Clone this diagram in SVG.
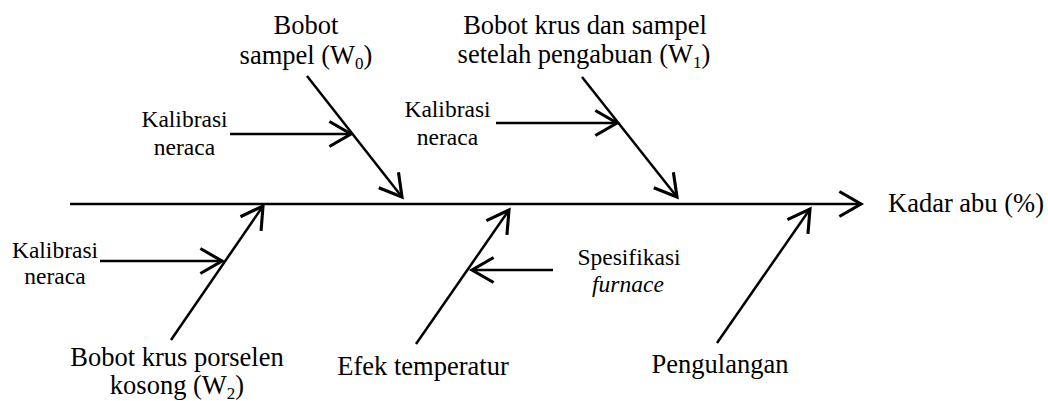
<svg xmlns="http://www.w3.org/2000/svg" width="1048" height="401" viewBox="0 0 1048 401">
  <style>
    text { font-family: "Liberation Serif", Tinos, "Times New Roman", "DejaVu Serif", serif; fill: #000; }
    .lbl { font-size: 26.5px; }
    .sm { font-size: 23.5px; }
    .sub { font-size: 17px; }
    .edge { stroke: #000; stroke-width: 2.5; fill: none; marker-end: url(#open); }
  </style>
  <defs>
    <marker id="open" markerUnits="userSpaceOnUse" markerWidth="30" markerHeight="30" viewBox="-20 -12 22 24" refX="0" refY="0" orient="auto" overflow="visible">
      <path d="M -17.3 -10 L 0 0 L -17.3 10" fill="none" stroke="#000" stroke-width="2.5" stroke-linejoin="miter"/>
    </marker>
  </defs>
  <rect width="1048" height="401" fill="#fff"/>

  <!-- spine, bones and sub-causes -->
  <g id="connectors">
    <line class="edge" x1="70" y1="204" x2="861" y2="204"/>
    <line class="edge" x1="307" y1="76" x2="402" y2="197"/>
    <line class="edge" x1="230" y1="134" x2="351" y2="134"/>
    <line class="edge" x1="582" y1="77" x2="677" y2="197"/>
    <line class="edge" x1="496" y1="123" x2="617" y2="123"/>
    <line class="edge" x1="171" y1="340" x2="263" y2="206"/>
    <line class="edge" x1="100" y1="261" x2="222" y2="261"/>
    <line class="edge" x1="416" y1="344" x2="509" y2="210"/>
    <line class="edge" x1="553" y1="270" x2="472" y2="270"/>
    <line class="edge" x1="717" y1="343" x2="810" y2="209"/>
  </g>

  <g id="effect">
    <text class="lbl" x="888" y="212" font-family="Liberation Serif, serif">Kadar abu (%)</text>
  </g>

  <g id="bobot-sampel">
    <text class="lbl" x="306" y="34" text-anchor="middle">Bobot</text>
    <text class="lbl" x="306" y="64" text-anchor="middle">sampel (W<tspan class="sub" dy="5">0</tspan><tspan dy="-5">)</tspan></text>
  </g>

  <g id="kalibrasi-1">
    <text class="sm" x="184.5" y="127" text-anchor="middle">Kalibrasi</text>
    <text class="sm" x="184.5" y="155" text-anchor="middle">neraca</text>
  </g>

  <g id="bobot-krus-sampel">
    <text class="lbl" x="585" y="34" text-anchor="middle">Bobot krus dan sampel</text>
    <text class="lbl" x="584" y="63" text-anchor="middle">setelah pengabuan (W<tspan class="sub" dy="5">1</tspan><tspan dy="-5">)</tspan></text>
  </g>

  <g id="kalibrasi-2">
    <text class="sm" x="447.5" y="117" text-anchor="middle">Kalibrasi</text>
    <text class="sm" x="447.5" y="145" text-anchor="middle">neraca</text>
  </g>

  <g id="kalibrasi-3">
    <text class="sm" x="55" y="258" text-anchor="middle">Kalibrasi</text>
    <text class="sm" x="55" y="284" text-anchor="middle">neraca</text>
  </g>

  <g id="bobot-krus-kosong">
    <text class="lbl" x="177" y="366" text-anchor="middle">Bobot krus porselen</text>
    <text class="lbl" x="177" y="394" text-anchor="middle">kosong (W<tspan class="sub" dy="5">2</tspan><tspan dy="-5">)</tspan></text>
  </g>

  <g id="efek-temperatur">
    <text class="lbl" x="423" y="375" text-anchor="middle">Efek temperatur</text>
  </g>

  <g id="spesifikasi">
    <text class="sm" x="629" y="265" text-anchor="middle">Spesifikasi</text>
    <text class="sm" x="628" y="292" text-anchor="middle" font-style="italic">furnace</text>
  </g>

  <g id="pengulangan">
    <text class="lbl" x="720" y="373" text-anchor="middle">Pengulangan</text>
  </g>
</svg>
